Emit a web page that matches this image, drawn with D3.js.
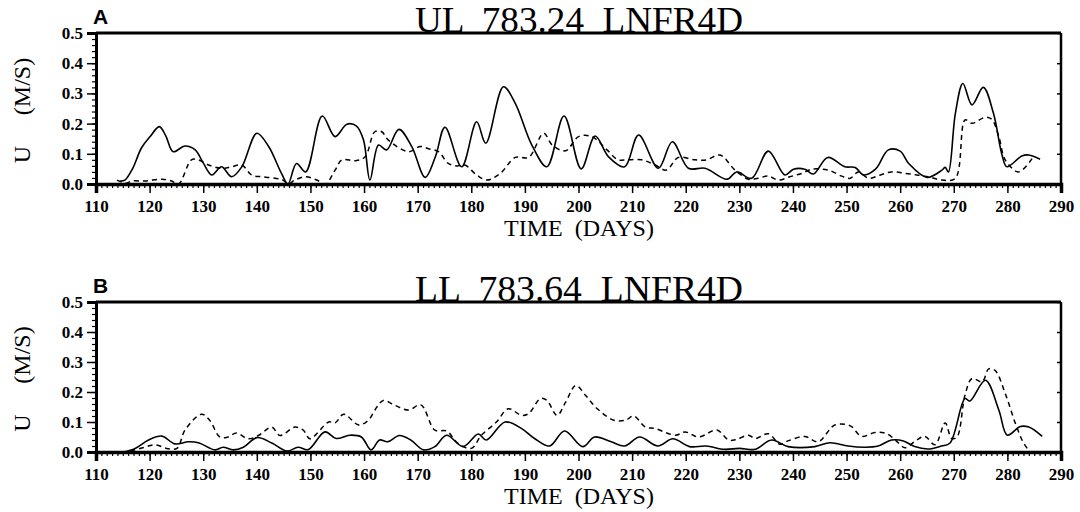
<!DOCTYPE html>
<html>
<head>
<meta charset="utf-8">
<title>UL / LL 783 LNFR4D</title>
<style>
  body { margin: 0; background: #fff; }
  .serif { font-family: "Liberation Serif", serif; fill: #000; }
</style>
</head>
<body>
<script src="https://cdn.jsdelivr.net/npm/d3@7/dist/d3.min.js"></script>
<script>
// axis ticks
var xTicks = d3.range(110, 291, 10);
var yTicks = [0.0, 0.1, 0.2, 0.3, 0.4, 0.5];

// panel A (UL 783.24) - [day, U m/s]
var ulSolid = [[114.5,0.01],[115.4,0.013],[116.8,0.05],[118.5,0.12],[120.1,0.157],[121.8,0.19],[123,0.16],[124.4,0.107],[126.6,0.126],[128.5,0.113],
  [130,0.07],[131.6,0.03],[133.4,0.057],[135.3,0.024],[137.2,0.057],[140,0.168],[142.2,0.124],[144.6,0.035],[145.8,0.0],[147.4,0.068],
  [149.1,0.04],[152.2,0.225],[154.6,0.157],[156.8,0.198],[158.6,0.192],[159.9,0.146],[161.1,0.013],[162.7,0.129],[164.2,0.113],[166.5,0.181],
  [168.9,0.124],[171.4,0.022],[173.3,0.09],[175.1,0.188],[178.2,0.057],[181,0.206],[182.7,0.135],[186,0.322],[188.2,0.267],[191.3,0.129],
  [194.1,0.057],[197.3,0.225],[200.5,0.05],[203.1,0.159],[205.6,0.09],[208.6,0.057],[211.2,0.162],[214.9,0.052],[217.5,0.14],[220.5,0.052],
  [223.6,0.052],[227.7,0.016],[229.5,0.04],[232.3,0.019],[235.4,0.109],[238.5,0.03],[240.1,0.049],[242.2,0.049],[243.8,0.033],[246.5,0.088],
  [249.7,0.057],[251.6,0.055],[253.2,0.03],[255.4,0.049],[257.8,0.113],[260,0.109],[261.6,0.068],[265,0.022],[267.8,0.046],[268.4,0.055],
  [269,0.04],[270.3,0.234],[271.7,0.333],[273.4,0.262],[275.5,0.32],[277.4,0.234],[279,0.096],[279.9,0.057],[282.7,0.093],[284,0.096],[286.1,0.082]];

var ulDashed = [[113.9,0.013],[115.6,0.003],[116.7,0.01],[119.2,0.01],[122.3,0.016],[124.1,0.01],[125.4,0.0],[127.8,0.08],[129.1,0.08],[131,0.063],
  [133.5,0.052],[135.3,0.057],[137.2,0.063],[139,0.03],[140.9,0.024],[143.4,0.019],[144.9,0.013],[145.8,0.0],[147.1,0.013],[149,0.024],
  [151.2,0.013],[152.8,0.0],[154.6,0.046],[155.9,0.08],[158.4,0.077],[160.2,0.09],[162,0.173],[163.3,0.173],[164.5,0.146],[168.3,0.107],
  [170.5,0.124],[172,0.117],[173.9,0.107],[175.7,0.068],[177.3,0.06],[178.8,0.063],[181,0.03],[182.9,0.013],[185.4,0.035],[188.2,0.088],
  [190.7,0.088],[193.5,0.168],[195.1,0.129],[197.6,0.11],[200,0.157],[202.5,0.157],[205.3,0.113],[207.4,0.08],[209,0.08],[211.8,0.08],
  [214.3,0.063],[216.4,0.046],[218.6,0.088],[221.7,0.08],[223.9,0.08],[226.4,0.096],[229.2,0.046],[231.7,0.016],[233.5,0.019],[235.4,0.026],
  [237.3,0.013],[239.4,0.024],[241.6,0.035],[243.5,0.049],[246.6,0.046],[249.1,0.026],[250.7,0.019],[252.2,0.04],[254.1,0.019],[256.3,0.03],
  [258.4,0.04],[261,0.035],[263.1,0.03],[265.3,0.024],[267.8,0.013],[270.3,0.019],[272.1,0.212],[273.4,0.201],[275.9,0.221],[277.1,0.214],
  [278.4,0.157],[279.6,0.08],[282.1,0.04],[284.6,0.084]];

// panel B (LL 783.64)
var llSolid = [[115.1,0.0],[117.3,0.012],[119.8,0.04],[122.3,0.053],[124.7,0.027],[127.2,0.034],[129.1,0.031],[132.2,0.007],[133.7,0.016],[135.6,0.007],
  [137.5,0.016],[140,0.048],[142.8,0.03],[145.6,0.003],[147.7,0.016],[149.6,0.008],[152.7,0.067],[154.8,0.045],[157.3,0.056],[159.5,0.05],
  [161.3,0.007],[162.9,0.04],[164.4,0.034],[166.6,0.055],[168.7,0.04],[171.1,0.007],[173.2,0.018],[175.4,0.056],[178.5,0.018],[181.3,0.06],
  [182.8,0.04],[186.3,0.1],[189.4,0.078],[191.8,0.045],[194.6,0.02],[197.4,0.07],[200.8,0.018],[203,0.05],[206.1,0.034],[208.6,0.02],
  [211.4,0.05],[214.8,0.02],[217.6,0.044],[220.7,0.018],[223.8,0.02],[227.2,0.009],[230,0.012],[233,0.009],[236,0.04],[239.1,0.018],
  [244.1,0.018],[246.9,0.031],[250.3,0.02],[253.4,0.016],[255.9,0.02],[258.4,0.04],[260.6,0.037],[262.7,0.018],[265.2,0.01],[267.7,0.02],
  [269.3,0.03],[272.1,0.178],[273,0.17],[275.9,0.239],[278.4,0.14],[280,0.056],[282.4,0.085],[284,0.083],[286.5,0.052]];

var llDashed = [[116.4,0.003],[118.9,0.015],[121.1,0.024],[123.2,0.012],[125.1,0.012],[126.6,0.073],[129.7,0.126],[131.2,0.106],[133.1,0.05],[134.6,0.05],
  [136.2,0.063],[138.4,0.044],[140.3,0.055],[142.8,0.083],[144.3,0.055],[147.1,0.083],[148.7,0.072],[149.9,0.044],[153.4,0.1],[154.6,0.097],
  [156.2,0.126],[159,0.09],[160.8,0.106],[162.4,0.15],[163.6,0.172],[165.8,0.155],[168.3,0.14],[170.6,0.157],[173.2,0.073],[175.4,0.07],
  [177.5,0.029],[180,0.012],[181.9,0.056],[184.7,0.1],[186.9,0.144],[189.4,0.122],[190.7,0.128],[192.9,0.178],[194.1,0.172],[196,0.122],
  [197.6,0.166],[199.5,0.222],[201.3,0.189],[203.5,0.144],[206.6,0.106],[208.8,0.106],[210.3,0.12],[212.5,0.083],[214.3,0.078],[218.1,0.056],
  [219.9,0.067],[222.4,0.05],[225.8,0.073],[228,0.04],[229.5,0.042],[231.7,0.056],[233,0.045],[235.4,0.061],[237.6,0.026],[239.1,0.037],
  [242.2,0.052],[244.7,0.034],[247.8,0.09],[250.7,0.087],[252.8,0.052],[255.3,0.065],[257.5,0.061],[259.7,0.03],[260.9,0.014],[263.1,0.04],
  [264.6,0.052],[266.5,0.024],[268.4,0.097],[269.6,0.045],[270.6,0.05],[272.1,0.19],[273.4,0.245],[275.3,0.234],[276.5,0.277],[277.7,0.272],
  [279.6,0.195],[281.5,0.095],[282.9,0.034],[283.7,0.012]];

var W = 1080, H = 512;
var svg = d3.select("body").append("svg")
    .attr("width", W)
    .attr("height", H)
    .style("background", "#fff");

var x = d3.scaleLinear().domain([110, 290]).range([96, 1061]);

// bold serif tick labels, like the plotter font
function styleLabels(a) {
  a.attr("font-family", null).attr("font-size", null);
  a.selectAll(".tick text")
    .attr("font-family", "Liberation Serif, serif")
    .attr("font-weight", "bold")
    .attr("font-size", "17px")
    .attr("fill", "#000");
}

function drawPanel(letter, title, top, bottom, solid, dashed) {
  var y = d3.scaleLinear().domain([0, 0.5]).range([bottom, top]);
  var g = svg.append("g");

  // curves
  var line = d3.line()
      .x(function (d) { return x(d[0]); })
      .y(function (d) { return y(d[1]); })
      .curve(d3.curveCatmullRom.alpha(0.5));

  g.append("path").datum(dashed)
    .attr("d", line).attr("fill", "none")
    .attr("stroke", "#000").attr("stroke-width", 1.5)
    .attr("stroke-dasharray", "5,4");
  g.append("path").datum(solid)
    .attr("d", line).attr("fill", "none")
    .attr("stroke", "#000").attr("stroke-width", 1.6);

  // frame: top and right thinner
  g.append("line").attr("x1", x(110)).attr("x2", x(290)).attr("y1", top).attr("y2", top)
    .attr("stroke", "#000").attr("stroke-width", 3);
  g.append("line").attr("x1", x(290)).attr("x2", x(290)).attr("y1", top).attr("y2", bottom)
    .attr("stroke", "#000").attr("stroke-width", 2.5);

  // small inward ticks on right frame
  g.append("g").attr("transform", "translate(" + x(290) + ",0)")
    .call(d3.axisRight(y).tickValues(yTicks).tickSize(-4).tickFormat(""))
    .call(function (a) { a.select(".domain").remove(); a.selectAll("line").attr("stroke-width", 1.5); });

  // x axis minor + major
  g.append("g").attr("transform", "translate(0," + bottom + ")")
    .call(d3.axisBottom(x).tickValues(d3.range(110, 291, 1)).tickSize(4).tickFormat(""))
    .call(function (a) { a.select(".domain").remove(); a.selectAll("line").attr("stroke-width", 1.2); });
  var xa = g.append("g").attr("transform", "translate(0," + bottom + ")")
    .call(d3.axisBottom(x).tickValues(xTicks).tickSize(9).tickPadding(7).tickFormat(d3.format("d")));
  xa.select(".domain").attr("stroke-width", 3.5);
  xa.selectAll("line").attr("stroke-width", 1.5);
  styleLabels(xa);

  // y axis minor + major
  g.append("g").attr("transform", "translate(" + x(110) + ",0)")
    .call(d3.axisLeft(y).tickValues(d3.range(0, 0.501, 0.02)).tickSize(4).tickFormat(""))
    .call(function (a) { a.select(".domain").remove(); a.selectAll("line").attr("stroke-width", 1.2); });
  var ya = g.append("g").attr("transform", "translate(" + x(110) + ",0)")
    .call(d3.axisLeft(y).tickValues(yTicks).tickSize(9).tickPadding(4).tickFormat(d3.format(".1f")));
  ya.select(".domain").attr("stroke-width", 3);
  ya.selectAll("line").attr("stroke-width", 1.5);
  styleLabels(ya);

  // panel letter
  svg.append("text").attr("x", 93).attr("y", top - 9)
    .attr("font-family", "Liberation Sans, Arial, sans-serif").attr("font-weight", "bold")
    .attr("font-size", "21px").text(letter);

  // title sitting on the top frame
  svg.append("text").attr("class", "serif")
    .attr("x", 415).attr("y", top - 1)
    .attr("font-size", "36px")
    .attr("textLength", 328).attr("lengthAdjust", "spacingAndGlyphs")
    .style("white-space", "pre")
    .text(title);

  // y label
  var mid = (top + bottom) / 2;
  svg.append("text").attr("class", "serif")
    .attr("transform", "translate(30," + (mid + 46) + ") rotate(-90)")
    .attr("text-anchor", "middle").attr("font-size", "24px").text("U");
  svg.append("text").attr("class", "serif")
    .attr("transform", "translate(30," + (mid - 22) + ") rotate(-90)")
    .attr("text-anchor", "middle").attr("font-size", "24px").text("(M/S)");

  // x label
  svg.append("text").attr("class", "serif")
    .attr("x", 579).attr("y", bottom + 52)
    .attr("text-anchor", "middle").attr("font-size", "24px")
    .style("white-space", "pre")
    .text("TIME  (DAYS)");
}

drawPanel("A", "UL  783.24  LNFR4D", 33, 184, ulSolid, ulDashed);
drawPanel("B", "LL  783.64  LNFR4D", 302, 452, llSolid, llDashed);
</script>
</body>
</html>
